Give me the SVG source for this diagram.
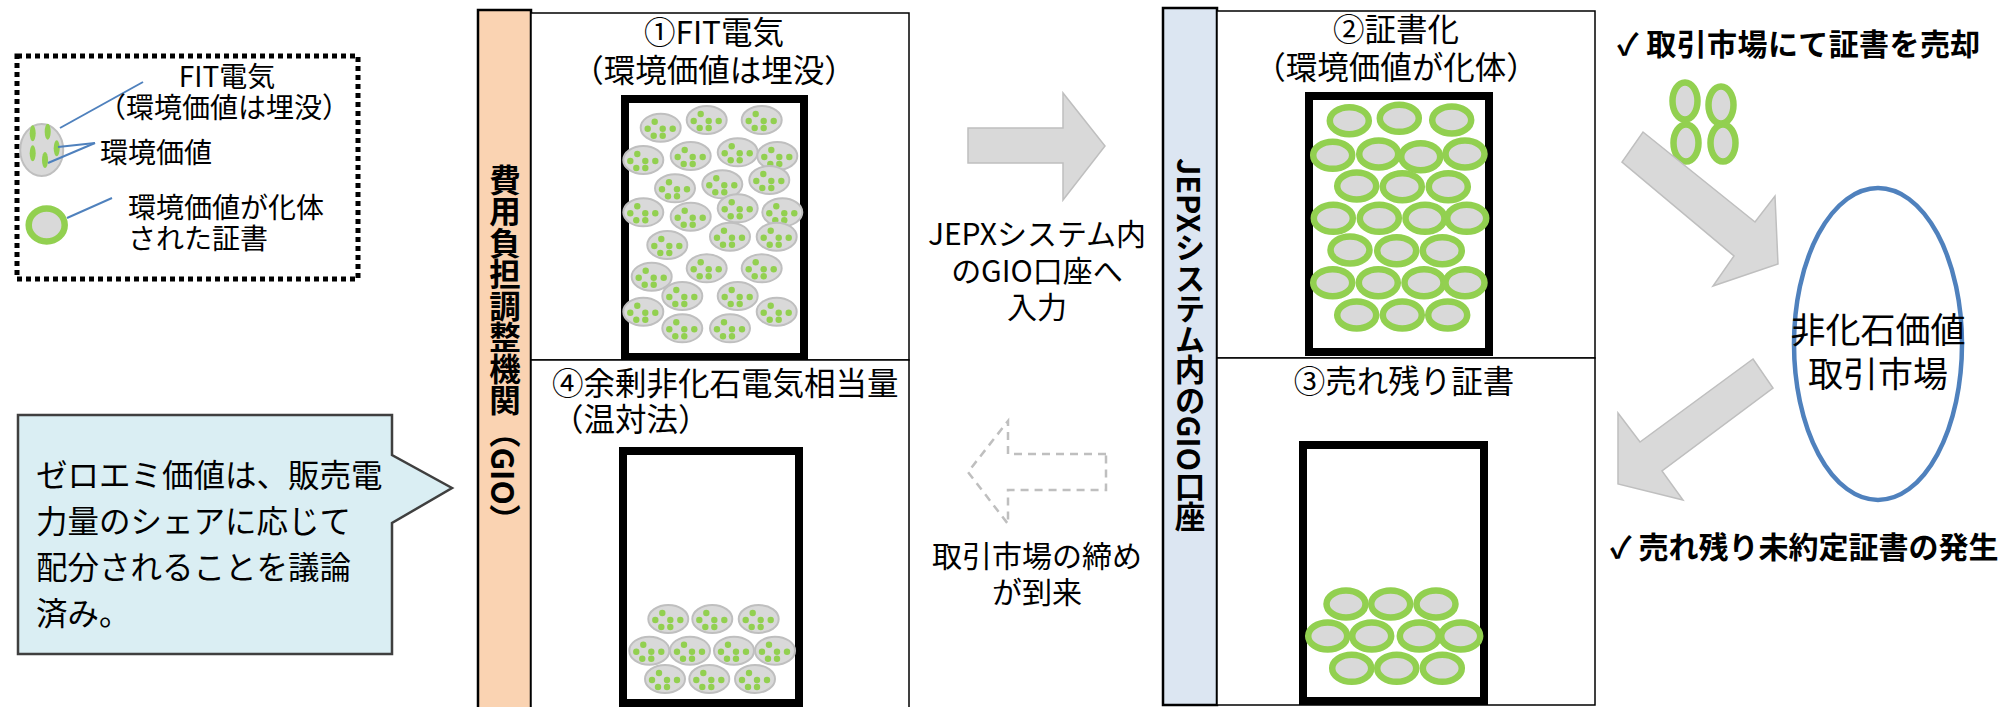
<svg xmlns="http://www.w3.org/2000/svg" xmlns:xlink="http://www.w3.org/1999/xlink" width="1999" height="707" viewBox="0 0 1999 707">
<style>
text{font-family:"Noto Sans CJK JP","Noto Sans",sans-serif;fill:#000}
.t{font-size:31.5px}
.lg{font-size:28px}
.mid{text-anchor:middle}
.b{font-weight:bold}
.vert{writing-mode:vertical-rl;font-weight:bold;font-size:31.5px}
.panel{fill:#fff;stroke:#000;stroke-width:1.5}
.box{fill:#fff;stroke:#000;stroke-width:8}
.fit{fill:#d9d9d9;stroke:#bfbfbf;stroke-width:2}
.dot{fill:#92d050}
.ring{fill:#d9d9d9;stroke:#92d050;stroke-width:6.5}
.garrow{fill:#d9d9d9;stroke:#bfbfbf;stroke-width:1.5}
.blue{stroke:#4f81bd;stroke-width:2;fill:none}
</style>
<defs>
<g id="fe">
<ellipse class="fit" cx="0" cy="0" rx="20" ry="14"/>
<circle class="dot" cx="-6" cy="-6" r="3.2"/>
<circle class="dot" cx="-13" cy="1" r="3.2"/>
<circle class="dot" cx="2" cy="1" r="3.2"/>
<circle class="dot" cx="12" cy="1" r="3.2"/>
<circle class="dot" cx="-7" cy="8" r="3.2"/>
<circle class="dot" cx="2" cy="8" r="3.2"/>
</g>
<ellipse id="rg" class="ring" cx="0" cy="0" rx="19.5" ry="13.5"/>
</defs>
<rect width="1999" height="707" fill="#fff"/>

<g id="legend">
<rect x="17" y="56" width="341" height="223" fill="none" stroke="#000" stroke-width="5" stroke-dasharray="5 4"/>
<ellipse class="fit" cx="41.7" cy="150" rx="21.5" ry="26"/>
<ellipse class="dot" cx="32.7" cy="133.3" rx="3" ry="8"/>
<ellipse class="dot" cx="47.7" cy="131.7" rx="3" ry="8"/>
<ellipse class="dot" cx="32.7" cy="153.3" rx="3" ry="8"/>
<ellipse class="dot" cx="56.7" cy="148.3" rx="3" ry="8"/>
<ellipse class="dot" cx="45" cy="160" rx="3" ry="8"/>
<ellipse class="ring" cx="46.7" cy="225" rx="18" ry="16.5"/>
<line class="blue" x1="60" y1="128" x2="143" y2="82"/>
<line class="blue" x1="58" y1="147" x2="95" y2="143"/>
<line class="blue" x1="48" y1="163" x2="95" y2="143"/>
<line class="blue" x1="67" y1="218" x2="112" y2="198"/>
<text class="lg mid" x="227" y="87">FIT電気</text>
<text class="lg mid" x="224" y="118">（環境価値は埋没）</text>
<text class="lg" x="100" y="163">環境価値</text>
<text class="lg" x="128" y="218">環境価値が化体</text>
<text class="lg" x="128" y="249">された証書</text>
</g>

<g id="callout">
<path d="M18,415 H392 V455 L452,488 L392,523 V654 H18 Z" fill="#daeef3" stroke="#3f3f3f" stroke-width="2.5"/>
<text class="t" x="36" y="487">ゼロエミ価値は、販売電</text>
<text class="t" x="36" y="533">力量のシェアに応じて</text>
<text class="t" x="36" y="579">配分されることを議論</text>
<text class="t" x="36" y="625">済み。</text>
</g>

<g id="gio">
<rect x="478" y="10" width="53" height="710" fill="#fad3b2" stroke="#000" stroke-width="2.5"/>
<text class="vert" x="505" y="164">費用負担調整機関（GIO）</text>
</g>

<g id="panel1">
<rect class="panel" x="531" y="13" width="378" height="347"/>
<text class="t mid" x="714" y="44">①FIT電気</text>
<text class="t mid" x="714" y="82">（環境価値は埋没）</text>
<rect class="box" x="625" y="99" width="179" height="258"/>
<use xlink:href="#fe" x="660.7" y="127.7"/>
<use xlink:href="#fe" x="706.7" y="120"/>
<use xlink:href="#fe" x="761.7" y="120"/>
<use xlink:href="#fe" x="643.3" y="160"/>
<use xlink:href="#fe" x="690.7" y="156"/>
<use xlink:href="#fe" x="737.7" y="152.3"/>
<use xlink:href="#fe" x="777.3" y="156"/>
<use xlink:href="#fe" x="675" y="188.3"/>
<use xlink:href="#fe" x="722.3" y="184.3"/>
<use xlink:href="#fe" x="769.3" y="180"/>
<use xlink:href="#fe" x="643.3" y="212.3"/>
<use xlink:href="#fe" x="690.7" y="216.7"/>
<use xlink:href="#fe" x="737.7" y="208.3"/>
<use xlink:href="#fe" x="782.3" y="212.3"/>
<use xlink:href="#fe" x="730" y="236.7"/>
<use xlink:href="#fe" x="776.7" y="236.7"/>
<use xlink:href="#fe" x="667.3" y="245"/>
<use xlink:href="#fe" x="651.7" y="276.7"/>
<use xlink:href="#fe" x="706.7" y="268.3"/>
<use xlink:href="#fe" x="761.7" y="268.3"/>
<use xlink:href="#fe" x="682.3" y="296"/>
<use xlink:href="#fe" x="737.7" y="296"/>
<use xlink:href="#fe" x="643.3" y="311.7"/>
<use xlink:href="#fe" x="776.7" y="311.7"/>
<use xlink:href="#fe" x="682.3" y="328.3"/>
<use xlink:href="#fe" x="730" y="328.3"/>
</g>

<g id="panel4">
<rect class="panel" x="531" y="360" width="378" height="360"/>
<text class="t" x="552" y="395">④余剰非化石電気相当量</text>
<text class="t" x="552" y="431">（温対法）</text>
<rect class="box" x="623" y="451" width="176" height="252"/>
<use xlink:href="#fe" x="668.3" y="619"/>
<use xlink:href="#fe" x="712.3" y="619"/>
<use xlink:href="#fe" x="758.7" y="619"/>
<use xlink:href="#fe" x="649.3" y="650.7"/>
<use xlink:href="#fe" x="690" y="650.7"/>
<use xlink:href="#fe" x="734" y="650.7"/>
<use xlink:href="#fe" x="775" y="650.7"/>
<use xlink:href="#fe" x="665" y="679"/>
<use xlink:href="#fe" x="709.3" y="679"/>
<use xlink:href="#fe" x="755" y="679"/>
</g>

<g id="jepx">
<rect x="1163" y="8" width="54" height="697" fill="#dce6f2" stroke="#000" stroke-width="2.5"/>
<text class="vert" x="1190" y="158" style="font-size:30.5px">JEPXシステム内のGIO口座</text>
</g>

<g id="panel2">
<rect class="panel" x="1217" y="11" width="378" height="347"/>
<text class="t mid" x="1396" y="41">②証書化</text>
<text class="t mid" x="1396" y="79">（環境価値が化体）</text>
<rect class="box" x="1309" y="96" width="180" height="256"/>
<use xlink:href="#rg" x="1349.3" y="120.7"/>
<use xlink:href="#rg" x="1399.3" y="118.3"/>
<use xlink:href="#rg" x="1451.7" y="120"/>
<use xlink:href="#rg" x="1332.7" y="155.3"/>
<use xlink:href="#rg" x="1378.7" y="154"/>
<use xlink:href="#rg" x="1420.7" y="156.7"/>
<use xlink:href="#rg" x="1465" y="154"/>
<use xlink:href="#rg" x="1356.7" y="186"/>
<use xlink:href="#rg" x="1402.3" y="186.7"/>
<use xlink:href="#rg" x="1448.3" y="186.7"/>
<use xlink:href="#rg" x="1333.3" y="218.3"/>
<use xlink:href="#rg" x="1379.3" y="218.3"/>
<use xlink:href="#rg" x="1425" y="218.3"/>
<use xlink:href="#rg" x="1466.7" y="218.3"/>
<use xlink:href="#rg" x="1350" y="250"/>
<use xlink:href="#rg" x="1396.7" y="250.7"/>
<use xlink:href="#rg" x="1442.3" y="250.7"/>
<use xlink:href="#rg" x="1332.7" y="282.7"/>
<use xlink:href="#rg" x="1378.3" y="282.7"/>
<use xlink:href="#rg" x="1424" y="282.7"/>
<use xlink:href="#rg" x="1465" y="282.7"/>
<use xlink:href="#rg" x="1356.7" y="315"/>
<use xlink:href="#rg" x="1402.3" y="315"/>
<use xlink:href="#rg" x="1447.7" y="315"/>
</g>

<g id="panel3">
<rect class="panel" x="1217" y="358" width="378" height="347"/>
<text class="t mid" x="1404" y="393">③売れ残り証書</text>
<rect class="box" x="1303" y="445" width="181" height="256"/>
<use xlink:href="#rg" x="1346" y="604"/>
<use xlink:href="#rg" x="1390.7" y="604"/>
<use xlink:href="#rg" x="1436" y="604"/>
<use xlink:href="#rg" x="1327.7" y="636"/>
<use xlink:href="#rg" x="1371.7" y="636"/>
<use xlink:href="#rg" x="1419.3" y="636"/>
<use xlink:href="#rg" x="1460.7" y="636"/>
<use xlink:href="#rg" x="1351.7" y="668.3"/>
<use xlink:href="#rg" x="1396.7" y="668.3"/>
<use xlink:href="#rg" x="1442.3" y="668.3"/>
</g>

<g id="sell">
<text class="b" x="1617" y="55" font-size="30" letter-spacing="0.4">✓ 取引市場にて証書を売却</text>
<ellipse class="ring" cx="1685" cy="101" rx="12.5" ry="18.5" stroke-width="5.5"/>
<ellipse class="ring" cx="1721" cy="105" rx="12.5" ry="18.5" stroke-width="5.5"/>
<ellipse class="ring" cx="1686" cy="143" rx="12.5" ry="18.5" stroke-width="5.5"/>
<ellipse class="ring" cx="1723" cy="143" rx="12.5" ry="18.5" stroke-width="5.5"/>
</g>

<g id="market">
<ellipse cx="1878" cy="344" rx="84" ry="156" fill="#fff" stroke="#4f81bd" stroke-width="4.5"/>
<text class="mid" x="1878" y="343" font-size="35">非化石価値</text>
<text class="mid" x="1878" y="387" font-size="35">取引市場</text>
</g>

<g id="unsold">
<text class="b" x="1610" y="558" font-size="30">✓ 売れ残り未約定証書の発生</text>
</g>

<g id="connectors">
<polygon class="garrow" points="968,128 1063,128 1063,93 1105,146 1063,200 1063,163 968,163"/>
<polygon points="1106,454 1008,454 1008,421 968,472 1008,524 1008,490 1106,490" fill="none" stroke="#bfbfbf" stroke-width="2.5" stroke-dasharray="8 6"/>
<polygon class="garrow" points="1643,132 1755,222 1775,196 1778,264 1713,286 1734,256 1622,162"/>
<polygon class="garrow" points="1753,359 1773,388 1662,471 1683,500 1618,484 1618,413 1640,442"/>
<text class="mid" x="1037" y="245" font-size="30">JEPXシステム内</text>
<text class="mid" x="1037" y="282" font-size="30">のGIO口座へ</text>
<text class="mid" x="1037" y="318" font-size="30">入力</text>
<text class="mid" x="1037" y="567" font-size="30">取引市場の締め</text>
<text class="mid" x="1037" y="603" font-size="30">が到来</text>
</g>
</svg>
